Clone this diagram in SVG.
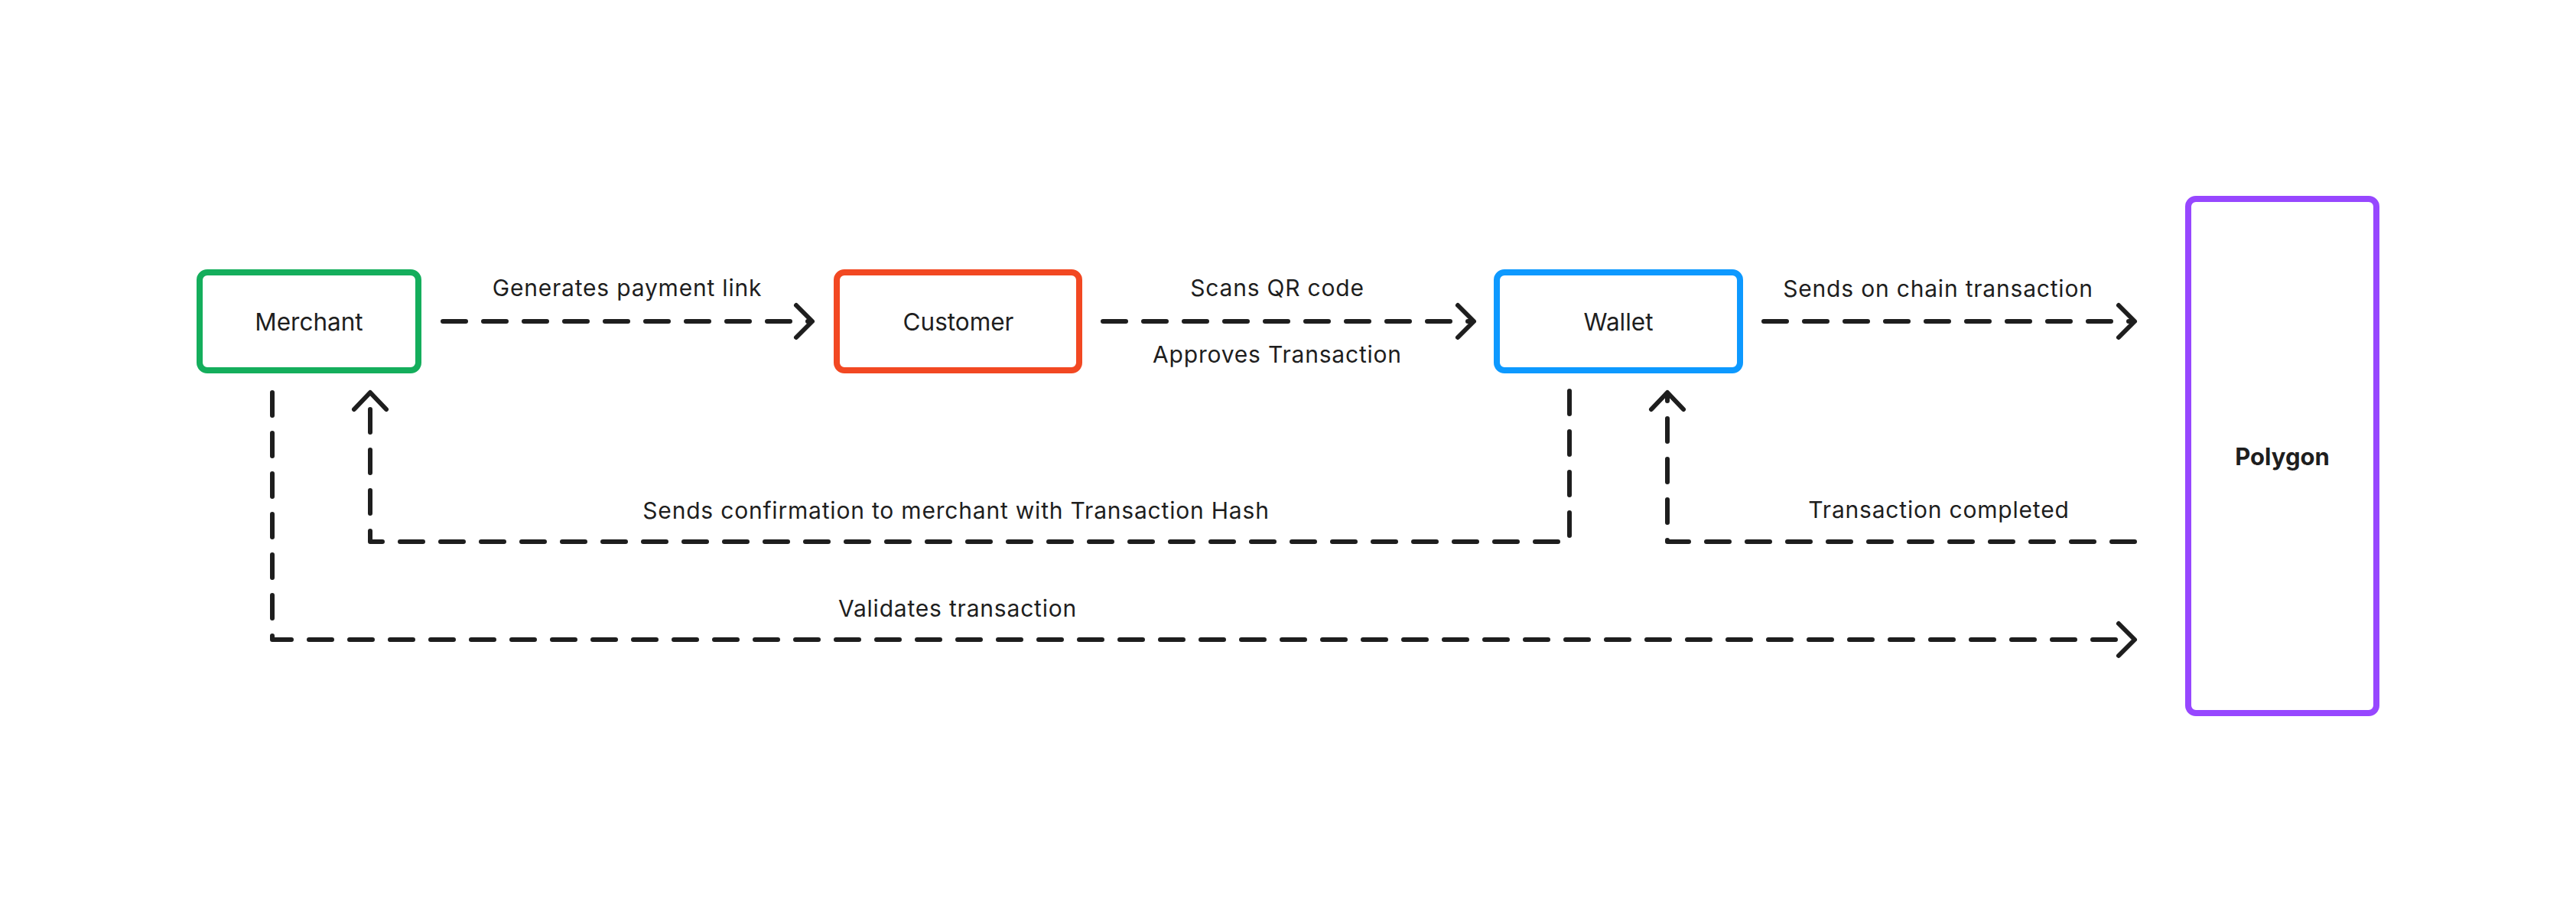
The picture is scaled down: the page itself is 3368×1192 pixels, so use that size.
<svg xmlns="http://www.w3.org/2000/svg" width="3368" height="1192" viewBox="0 0 3368 1192">
<style>
.box{fill:#fff;stroke-width:8}
.nt{font-family:Inter,"Noto Sans","Liberation Sans",sans-serif;font-size:31.5px;fill:#1e1e1e;text-anchor:middle}
.bt{font-weight:700;font-size:31px}
.lb{font-family:Inter,"Noto Sans","Liberation Sans",sans-serif;font-size:30px;letter-spacing:0.8px;fill:#1e1e1e;text-anchor:middle}
.ln{fill:none;stroke:#1e1e1e;stroke-width:6;stroke-linecap:round;stroke-linejoin:round;stroke-dasharray:30 23}
.ah{fill:none;stroke:#1e1e1e;stroke-width:6;stroke-linecap:round;stroke-linejoin:round}
</style>
<rect width="3368" height="1192" fill="#fff"/>
<g id="merchant">
<rect class="box" x="261" y="356" width="286" height="128" rx="10" stroke="#14ae5c"/>
<text class="nt" x="404" y="432">Merchant</text>
</g>
<g id="customer">
<rect class="box" x="1094" y="356" width="317" height="128" rx="10" stroke="#f24822"/>
<text class="nt" x="1253" y="432">Customer</text>
</g>
<g id="wallet">
<rect class="box" x="1957" y="356" width="318" height="128" rx="10" stroke="#0d99ff"/>
<text class="nt" x="2116" y="432">Wallet</text>
</g>
<g id="polygon">
<rect class="box" x="2861" y="260" width="246" height="672" rx="10" stroke="#9747ff"/>
<text class="nt bt" x="2984" y="608">Polygon</text>
</g>
<g id="connectors">
<path class="ln" d="M579 420H1060"/>
<path class="ah" d="M1041 399L1062 420L1041 441"/>
<path class="ln" d="M1442 420H1925"/>
<path class="ah" d="M1906 399L1927 420L1906 441"/>
<path class="ln" d="M2306 420H2789"/>
<path class="ah" d="M2770 399L2791 420L2770 441"/>
<path class="ln" d="M2052 511V708H484V515"/>
<path class="ah" d="M463 535L484 513L505 535"/>
<path class="ln" d="M2791 708H2180V515"/>
<path class="ah" d="M2159 535L2180 513L2201 535"/>
<path class="ln" d="M356 513V836H2789"/>
<path class="ah" d="M2770 815L2791 836L2770 857"/>
</g>
<g id="labels">
<text class="lb" x="820" y="387">Generates payment link</text>
<text class="lb" x="1670" y="387">Scans QR code</text>
<text class="lb" x="1670" y="474">Approves Transaction</text>
<text class="lb" x="2534" y="388">Sends on chain transaction</text>
<text class="lb" x="1250" y="678">Sends confirmation to merchant with Transaction Hash</text>
<text class="lb" x="2535" y="677">Transaction completed</text>
<text class="lb" x="1252" y="806">Validates transaction</text>
</g>
</svg>
